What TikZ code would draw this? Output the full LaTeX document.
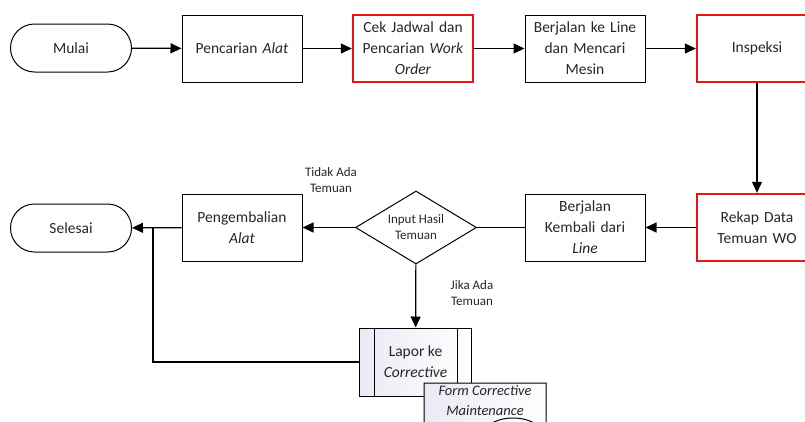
\documentclass[tikz,border=0pt]{standalone}
\usepackage{fontspec}
\setmainfont{Carlito}
\usetikzlibrary{arrows.meta,shapes.geometric,positioning}

\definecolor{flowred}{RGB}{235,20,20}
\definecolor{procfill}{RGB}{234,234,246}

\tikzset{
  base/.style={font=\fontsize{15.5}{21}\selectfont, align=center, text=black!85, inner sep=2pt},
  procbox/.style={base, draw, line width=1pt, minimum width=120pt, minimum height=67pt, text width=116pt},
  keybox/.style={procbox, draw=flowred, line width=2.4pt},
  terminal/.style={base, draw, line width=1pt, rounded corners=24pt, minimum width=121pt, minimum height=48pt},
  decision/.style={draw, line width=1pt, diamond, inner sep=0pt, minimum width=121pt, minimum height=73pt},
  predef/.style={base, draw, line width=1pt, minimum width=112pt, minimum height=68pt, left color=procfill, right color=white},
  note/.style={font=\fontsize{13}{16}\selectfont, align=center, text=black!85, inner sep=0pt},
  flow/.style={line width=1.2pt, -{Triangle[length=11pt,width=10pt]}},
  link/.style={line width=1.2pt}
}

\begin{document}
\begin{tikzpicture}[x=1pt,y=-1pt]
  \clip (0,0) rectangle (805,421);

  % top row
  \node[terminal] (mulai) at (71,48) {Mulai};
  \node[procbox] (cari) at (242,48.5) {Pencarian \textit{Alat}};
  \node[keybox] (cek) at (413,48.5) {Cek Jadwal dan\\Pencarian \textit{Work}\\\textit{Order}};
  \node[procbox] (jalan) at (585,48.5) {Berjalan ke Line\\dan Mencari\\Mesin};
  \node[keybox] (inspeksi) at (757,48.5) {Inspeksi};

  % bottom row
  \node[keybox] (rekap) at (757,227.5) {Rekap Data\\Temuan WO};
  \node[procbox] (kembali) at (585,227.5) {Berjalan\\Kembali dari\\\textit{Line}};
  \node[decision] (input) at (416,227.5) {};
  \node[note] (inputtext) at (input.center) {Input Hasil\\Temuan};
  \node[procbox] (balik) at (242,227.5) {Pengembalian\\\textit{Alat}};
  \node[terminal] (selesai) at (71,228) {Selesai};

  % predefined process with side bars
  \node[predef] (lapor) at (415.5,362) {Lapor ke\\\textit{Corrective}};
  \draw[line width=1pt] ([xshift=15pt]lapor.north west) -- ([xshift=15pt]lapor.south west);
  \draw[line width=1pt] ([xshift=-15pt]lapor.north east) -- ([xshift=-15pt]lapor.south east);

  % document shape with wavy lower edge
  \draw[line width=1pt, left color=procfill, right color=white]
    (424,383) -- (546,383) -- (546,432)
    .. controls (530,414) and (500,414) .. (485,428)
    .. controls (470,446) and (440,446) .. (424,432) -- cycle;
  \node[base, font=\fontsize{14.5}{20}\selectfont\itshape] (form) at (485,401) {Form Corrective\\Maintenance};

  % connectors
  \draw[flow] (mulai) -- (cari);
  \draw[flow] (cari) -- (cek);
  \draw[flow] (cek) -- (jalan);
  \draw[flow] (jalan) -- (inspeksi);
  \draw[flow] (inspeksi) -- (rekap);
  \draw[flow] (rekap) -- (kembali);
  \draw[link] (kembali) -- (input);
  \draw[flow] (input) -- (balik);
  \draw[flow] (balik) -- (selesai);
  \draw[flow] (input) -- (lapor);
  \coordinate (join) at (153,228);
  \draw[link] (lapor.west) -| (join);

  % branch labels
  \node[note] (tidak) at (331,180) {Tidak Ada\\Temuan};
  \node[note] (jika) at (472,293) {Jika Ada\\Temuan};
\end{tikzpicture}
\end{document}
